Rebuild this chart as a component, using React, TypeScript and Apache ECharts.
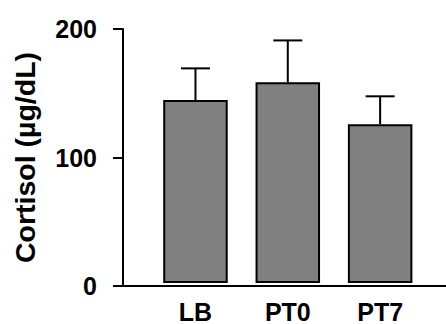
import React, { useEffect, useRef } from "react";
import * as echarts from "echarts";

const categories = ["LB", "PT0", "PT7"];
const means = [144, 158, 125];
const errors = [25, 33, 22];
const yTicks = [0, 100, 200];

const FONT = "'Liberation Sans', Arial, sans-serif";

export default function App() {
  const ref = useRef<HTMLDivElement>(null);
  useEffect(() => {
    if (!ref.current) return;
    const chart = echarts.init(ref.current, undefined, { renderer: "svg" });
    const errData = categories.map((c, i) => [i, means[i], means[i] + errors[i]]);
    chart.setOption({
      animation: false,
      backgroundColor: "#ffffff",
      grid: [
        { left: 123, right: 0, top: 29, bottom: 38 },
        { left: 149.3, width: 277, top: 29, bottom: 38 },
      ],
      xAxis: [
        {
          gridIndex: 0,
          type: "value",
          min: 0,
          max: 1,
          axisLine: { show: true, lineStyle: { color: "#000", width: 2 } },
          axisTick: { show: false },
          axisLabel: { show: false },
          splitLine: { show: false },
        },
        {
          gridIndex: 1,
          type: "category",
          data: categories,
          axisLine: { show: false },
          axisTick: { show: false },
          axisLabel: {
            color: "#000",
            fontFamily: FONT,
            fontWeight: "bold",
            fontSize: 25,
            margin: 16,
          },
        },
      ],
      yAxis: [
        {
          gridIndex: 0,
          type: "value",
          min: yTicks[0],
          max: yTicks[yTicks.length - 1],
          interval: 100,
          name: "Cortisol (µg/dL)",
          nameLocation: "middle",
          nameRotate: 90,
          nameGap: 84,
          nameTextStyle: {
            color: "#000",
            fontFamily: FONT,
            fontWeight: "bold",
            fontSize: 28.5,
          },
          axisLine: { show: true, lineStyle: { color: "#000", width: 2 } },
          axisTick: { show: true, length: 10, lineStyle: { color: "#000", width: 2 } },
          axisLabel: {
            color: "#000",
            fontFamily: FONT,
            fontWeight: "bold",
            fontSize: 25,
            margin: 26,
          },
          splitLine: { show: false },
        },
        {
          gridIndex: 1,
          type: "value",
          min: yTicks[0],
          max: yTicks[yTicks.length - 1],
          show: false,
        },
      ],
      series: [
        {
          type: "bar",
          xAxisIndex: 1,
          yAxisIndex: 1,
          data: means,
          barWidth: 64.5,
          itemStyle: { color: "#808080", borderColor: "#000", borderWidth: 2 },
        },
        {
          type: "custom",
          xAxisIndex: 1,
          yAxisIndex: 1,
          data: errData,
          z: 1,
          renderItem: (params: any, api: any) => {
            const idx = api.value(0);
            const base = api.coord([idx, api.value(1)]);
            const top = api.coord([idx, api.value(2)]);
            const half = 14.5;
            const style = { stroke: "#000", lineWidth: 2 };
            return {
              type: "group",
              children: [
                { type: "line", shape: { x1: base[0], y1: base[1], x2: top[0], y2: top[1] }, style },
                { type: "line", shape: { x1: top[0] - half, y1: top[1], x2: top[0] + half, y2: top[1] }, style },
              ],
            };
          },
        },
      ],
    });
    return () => chart.dispose();
  }, []);
  return (
    <div
      ref={ref}
      style={{ position: "fixed", left: 0, top: 0, width: 446, height: 324 }}
    />
  );
}
